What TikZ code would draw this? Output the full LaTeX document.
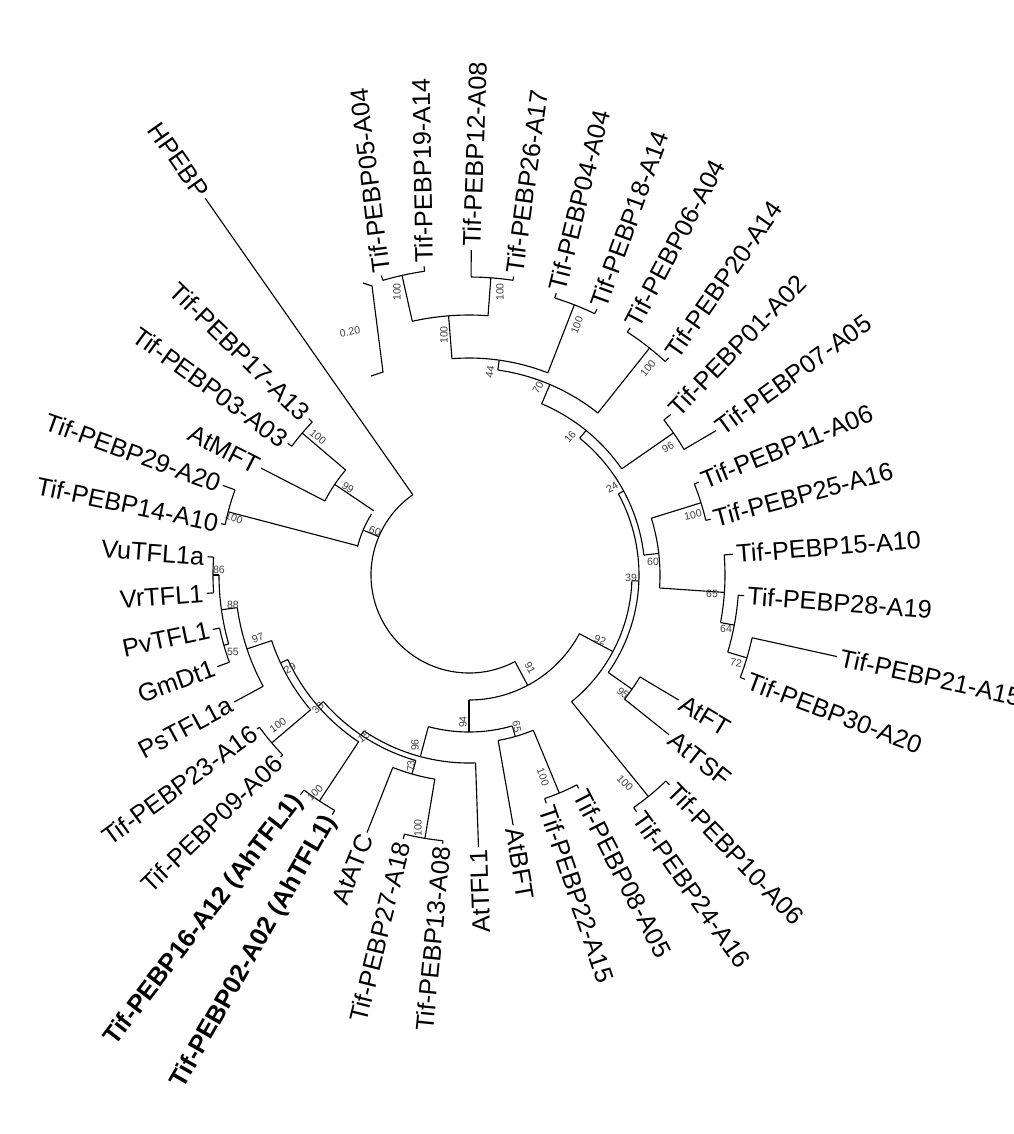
\documentclass[tikz,border=0pt]{standalone}
\usepackage{fontspec}
\setmainfont{Liberation Sans}
\usetikzlibrary{positioning,calc}

% tree helpers: arc at radius, radial segment, leaves
\newcommand\brarc[3]{\draw ([shift={(#2:#1)}]C) arc[start angle=#2,end angle=#3,radius=#1*0.025cm];}
\newcommand\brrad[3]{\draw ([shift={(#1:#2)}]C) -- ([shift={(#1:#3)}]C);}
\newcommand\leafR[5]{\brrad{#2}{#3}{#4}
  \node[leaf,anchor=west,rotate=#2] (#1) at ([shift={(#2:#4)}]C) {#5};}
\newcommand\leafT[6]{\brrad{#2}{#3}{#4}
  \node[leaf,anchor=west,rotate=#5] (#1) at ([shift={(#2:#4)}]C) {#6};}
\newcommand\leafL[5]{\brrad{#2}{#3}{#4}
  \node[leaf,anchor=east,rotate=#2+180] (#1) at ([shift={(#2:#4)}]C) {#5};}
\newcommand\bs[4]{\node[bslab,rotate=#3] at (#1,-#2) {#4};}

\begin{document}
\begin{tikzpicture}[x=0.025cm,y=0.025cm,line width=0.8pt,
				leaf/.style={font=\fontsize{18}{20}\selectfont,inner sep=2pt},
				bslab/.style={font=\fontsize{7.5}{8}\selectfont,inner sep=0pt,text=black!75}]
				\useasboundingbox (0,0) rectangle (1014,-1134);
				\coordinate (C) at (469,-575);
				% root
				\brarc{98}{125}{298}
				\leafL{hpebp}{125}{98}{460}{HPEBP}
				% left group
				\brrad{157}{98}{115} \brarc{115}{148}{166}
				\brrad{165.3}{115}{249} \brarc{249}{160}{168.3}
				\leafL{p29}{160}{249}{262}{Tif-PEBP29-A20}
				\leafL{p14}{168.3}{249}{253}{Tif-PEBP14-A10}
				\brrad{146}{115}{162} \brarc{162}{139.6}{152.8}
				\leafL{mft}{152.8}{162}{234}{AtMFT}
				\brrad{139.6}{162}{219} \brarc{219}{135.7}{144}
				\leafL{p17}{135.7}{219}{224}{Tif-PEBP17-A13}
				\leafL{p03}{144}{219}{224}{Tif-PEBP03-A03}
				% right group
				\brrad{298}{98}{125} \brarc{125}{-90}{-28}
				\brrad{-28}{125}{163} \brarc{163}{-51}{-2}
				\brrad{-51}{163}{285} \brarc{285}{-54.7}{-46.3}
				\leafR{p10}{-46.3}{285}{290}{Tif-PEBP10-A06}
				\leafR{p24}{-54.7}{285}{290}{Tif-PEBP24-A16}
				\brrad{-2}{163}{170} \brarc{170}{-35}{28.5}
				\brrad{-35}{170}{199} \brarc{199}{-38.6}{-30.8}
				\leafR{ft}{-30.8}{199}{244}{AtFT}
				\leafR{tsf}{-38.6}{199}{256}{AtTSF}
				\brrad{28.5}{170}{176} \brarc{176}{6.5}{51}
				\brrad{6.5}{176}{191} \brarc{191}{-3.9}{17.3}
				\brrad{17.3}{191}{243} \brarc{243}{13}{22}
				\leafR{p11}{22}{243}{248}{Tif-PEBP11-A06}
				\leafT{p25}{13}{243}{248}{15}{Tif-PEBP25-A16}
				\brrad{-3.9}{191}{256} \brarc{256}{-10.7}{4.5}
				\leafR{p15}{4.5}{256}{265}{Tif-PEBP15-A10}
				\brrad{-10.7}{256}{270} \brarc{270}{-16.6}{-4.3}
				\leafR{p28}{-4.3}{270}{276}{Tif-PEBP28-A19}
				\brrad{-16.6}{270}{290} \brarc{290}{-20.7}{-12.5}
				\leafR{p21}{-12.5}{290}{377}{Tif-PEBP21-A15}
				\leafR{p30}{-20.7}{290}{295}{Tif-PEBP30-A20}
				\brrad{51}{176}{186} \brarc{186}{34.8}{67}
				\brrad{34.8}{186}{249} \brarc{249}{30.3}{38.5}
				\leafT{p01}{38.5}{249}{258}{46}{Tif-PEBP01-A02}
				\leafT{p07}{30.3}{249}{286}{36}{Tif-PEBP07-A05}
				\brrad{67}{186}{207} \brarc{207}{51.5}{82}
				\brrad{51.5}{207}{290} \brarc{290}{47.4}{56.9}
				\leafT{p06}{56.9}{290}{295}{62}{Tif-PEBP06-A04}
				\leafT{p20}{47.4}{290}{295}{55}{Tif-PEBP20-A14}
				\brrad{82}{207}{217} \brarc{217}{68.7}{94.5}
				\brrad{68.7}{217}{290} \brarc{290}{64.3}{72.8}
				\leafT{p04}{72.8}{290}{295}{76}{Tif-PEBP04-A04}
				\leafT{p18}{64.3}{290}{295}{70}{Tif-PEBP18-A14}
				\brrad{94.5}{217}{260} \brarc{260}{85.8}{102.6}
				\brrad{102.6}{260}{307} \brarc{307}{98.3}{106.3}
				\leafT{p05}{106.3}{307}{312}{97}{Tif-PEBP05-A04}
				\leafT{p19}{98.3}{307}{312}{91}{Tif-PEBP19-A14}
				\brrad{85.8}{260}{298} \brarc{298}{81.5}{89.6}
				\leafT{p12}{89.6}{298}{325}{88}{Tif-PEBP12-A08}
				\leafT{p26}{81.5}{298}{302}{82}{Tif-PEBP26-A17}
				% bottom group
				\brrad{-90}{125}{157} \brarc{157}{-105}{-74}
				\brrad{-74}{157}{168} \brarc{168}{-80}{-67.5}
				\leafR{bft}{-80}{168}{254}{AtBFT}
				\brrad{-67.5}{168}{236} \brarc{236}{-71.3}{-62.8}
				\leafR{p22}{-71.3}{236}{241}{Tif-PEBP22-A15}
				\leafR{p08}{-62.8}{236}{240}{Tif-PEBP08-A05}
				\brrad{-105}{157}{188} \brarc{188}{-124}{-88}
				\leafL{tfl}{-88}{188}{272}{AtTFL1}
				\brrad{-124}{188}{193} \brarc{193}{-139}{-106}
				\brrad{-106}{193}{207} \brarc{207}{-111.6}{-99.5}
				\leafL{atc}{-111.6}{207}{277}{AtATC}
				\brrad{-99.5}{207}{267} \brarc{267}{-104}{-95.6}
				\leafL{p27}{-104}{267}{272}{Tif-PEBP27-A18}
				\leafL{p13}{-95.6}{267}{270}{Tif-PEBP13-A08}
				\brrad{-139}{193}{200} \brarc{200}{-155}{-123.5}
				\brrad{-123.5}{200}{271} \brarc{271}{-127.5}{-119.7}
				\leafL{p16}{-127.5}{271}{277}{\bfseries Tif-PEBP16-A12 (AhTFL1)}
				\leafL{p02}{-119.7}{271}{276}{\bfseries Tif-PEBP02-A02 (AhTFL1)}
				\brrad{-155}{200}{208} \brarc{208}{-161.6}{-139.6}
				\brrad{-139.6}{208}{259} \brarc{259}{-144}{-136}
				\leafL{p23}{-144}{259}{262}{Tif-PEBP23-A16}
				\leafL{p09}{-136}{259}{262}{Tif-PEBP09-A06}
				\brrad{-161.6}{208}{234} \brarc{234}{-172}{-151.6}
				\leafL{ps}{-151.6}{234}{267}{PsTFL1a}
				\brrad{-172}{234}{250} \brarc{250}{-180}{-164}
				\brrad{180}{250}{256} \brarc{256}{176}{184}
				\leafL{vu}{176}{256}{262}{VuTFL1a}
				\leafL{vr}{184}{256}{263}{VrTFL1}
				\brrad{-164}{250}{255} \brarc{255}{-168}{-160}
				\leafL{pv}{-168}{255}{262}{PvTFL1}
				\leafL{gm}{-160}{255}{268}{GmDt1}
				% scale bar
				\draw (363,-283) -- (372,-286) -- (383,-372) -- (371,-376);
				\node[bslab,rotate=12] at (350,-332) {0.20};
				% support values
				\bs{397}{292}{90}{100} \bs{500}{292}{90}{100} \bs{444}{335}{90}{100}
				\bs{490}{372}{80}{44} \bs{538}{388}{60}{70} \bs{577}{325}{70}{100}
				\bs{648}{368}{50}{100} \bs{570}{437}{50}{16} \bs{668}{447}{30}{96}
				\bs{612}{487}{30}{24} \bs{693}{515}{12}{100} \bs{653}{562}{0}{60}
				\bs{631}{578}{0}{39} \bs{712}{594}{0}{65} \bs{726}{629}{0}{64}
				\bs{736}{663}{-10}{72} \bs{623}{693}{-40}{95} \bs{600}{640}{-20}{92}
				\bs{530}{668}{-62}{91} \bs{625}{783}{-45}{100} \bs{463}{722}{90}{94}
				\bs{415}{745}{90}{96} \bs{411}{766}{90}{73} \bs{517}{727}{-80}{65}
				\bs{543}{777}{-70}{100} \bs{418}{828}{90}{100} \bs{364}{737}{35}{15}
				\bs{318}{708}{45}{33} \bs{315}{793}{45}{100} \bs{290}{668}{30}{29}
				\bs{278}{725}{35}{100} \bs{258}{638}{20}{97} \bs{233}{605}{0}{88}
				\bs{219}{570}{0}{86} \bs{233}{652}{0}{55} \bs{234}{518}{-20}{100}
				\bs{375}{531}{-20}{60} \bs{348}{488}{-35}{99} \bs{318}{437}{-40}{100}
\end{tikzpicture}
\end{document}
